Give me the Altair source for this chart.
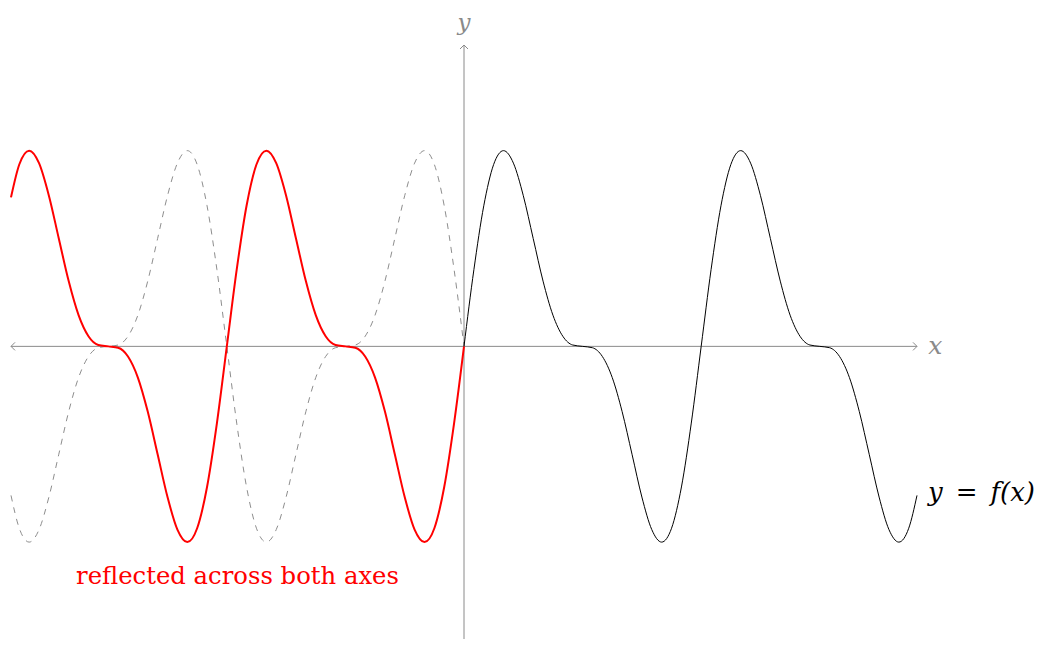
import altair as alt
import pandas as pd

xs = [0, 0.262, 0.524, 0.785, 1.047, 1.309, 1.571, 1.833, 2.094, 2.356, 2.618, 2.880,
      3.142, 3.403, 3.665, 3.927, 4.189, 4.451, 4.712, 4.974, 5.236, 5.498, 5.760, 6.021,
      6.283, 6.545, 6.807, 7.069, 7.330, 7.592, 7.854, 8.116, 8.378, 8.639, 8.901, 9.163,
      9.425, 9.687, 9.948, 10.210, 10.472, 10.734, 10.996, 11.257, 11.519, 11.781, 12.0]
ys = [0, 0.509, 0.933, 1.207, 1.299, 1.216, 1.0, 0.716, 0.433, 0.207, 0.067, 0.009,
      0, -0.009, -0.067, -0.207, -0.433, -0.716, -1.0, -1.216, -1.299, -1.207, -0.933, -0.509,
      0, 0.509, 0.933, 1.207, 1.299, 1.216, 1.0, 0.716, 0.433, 0.207, 0.067, 0.009,
      0, -0.009, -0.067, -0.207, -0.433, -0.716, -1.0, -1.216, -1.299, -1.207, -0.989]

curve_label = "y\u2002=\u2002f(x)"
reflect_label = "reflected across both axes"
x_label = "x"
y_label = "y"

GRAY = "#8a8a8a"
FONT = "DejaVu Serif"

df = pd.DataFrame({"x": xs, "y": ys})

xscale = alt.Scale(domain=[-12, 12], nice=False, zero=False)
yscale = alt.Scale(domain=[-1.942, 2], nice=False, zero=False)


def X(field):
    return alt.X(field, type="quantitative", scale=xscale, axis=None)


def Y(field):
    return alt.Y(field, type="quantitative", scale=yscale, axis=None)


# axes
x_axis = alt.Chart(pd.DataFrame({"x1": [-12], "x2": [12], "y": [0]})).mark_rule(
    color=GRAY, strokeWidth=1
).encode(x=X("x1"), x2="x2:Q", y=Y("y"))

y_axis = alt.Chart(pd.DataFrame({"x": [0], "y1": [-2], "y2": [2]})).mark_rule(
    color=GRAY, strokeWidth=1, clip=False
).encode(x=X("x"), y=Y("y1"), y2="y2:Q")


def arrow(px, py, path):
    return alt.Chart(pd.DataFrame({"x": [px], "y": [py]})).mark_point(
        shape=path, size=64, filled=False, stroke=GRAY, strokeWidth=1, opacity=1
    ).encode(x=X("x"), y=Y("y"))


arrows = [
    arrow(-12, 0, "M1,-1L0,0L1,1"),
    arrow(12, 0, "M-1,-1L0,0L-1,1"),
    arrow(0, 2, "M-1,1L0,0L1,1"),
]

# reflected across the y-axis (dashed gray)
dashed = alt.Chart(df).transform_calculate(rx="-datum.x").mark_line(
    interpolate="monotone", color="#808080", strokeWidth=0.9, strokeDash=[6, 6]
).encode(x=X("rx"), y=Y("y"))

# reflected across both axes (red)
red = alt.Chart(df).transform_calculate(rx="-datum.x", ry="-datum.y").mark_line(
    interpolate="monotone", color="#ff0000", strokeWidth=2
).encode(x=X("rx"), y=Y("ry"))

# original curve
black = alt.Chart(df).mark_line(
    interpolate="monotone", color="black", strokeWidth=1
).encode(x=X("x"), y=Y("y"))


def label(px, py, text, color, italic, align, size):
    kw = dict(align=align, baseline="alphabetic", font=FONT, fontSize=size,
              color=color, clip=False)
    if italic:
        kw["fontStyle"] = "italic"
    return alt.Chart(pd.DataFrame({"x": [px], "y": [py], "t": [text]})).mark_text(**kw).encode(
        x=X("x"), y=Y("y"), text="t:N"
    )


labels = [
    label(12.3, -0.05, x_label, GRAY, True, "left", 25),
    label(0, 2.0995, y_label, GRAY, True, "center", 23),
    label(12.29, -1.026, curve_label, "black", True, "left", 26),
    label(-6.0, -1.577, reflect_label, "#ff0000", False, "center", 24.3),
]

chart = alt.layer(x_axis, y_axis, *arrows, dashed, red, black, *labels).properties(
    width=906,
    height=594,
    padding={"left": 3, "top": 37, "right": 118, "bottom": 0},
    autosize="none",
    background="white",
).configure_view(stroke=None)

chart.save("out.html", embed_options={"renderer": "svg", "actions": False})
